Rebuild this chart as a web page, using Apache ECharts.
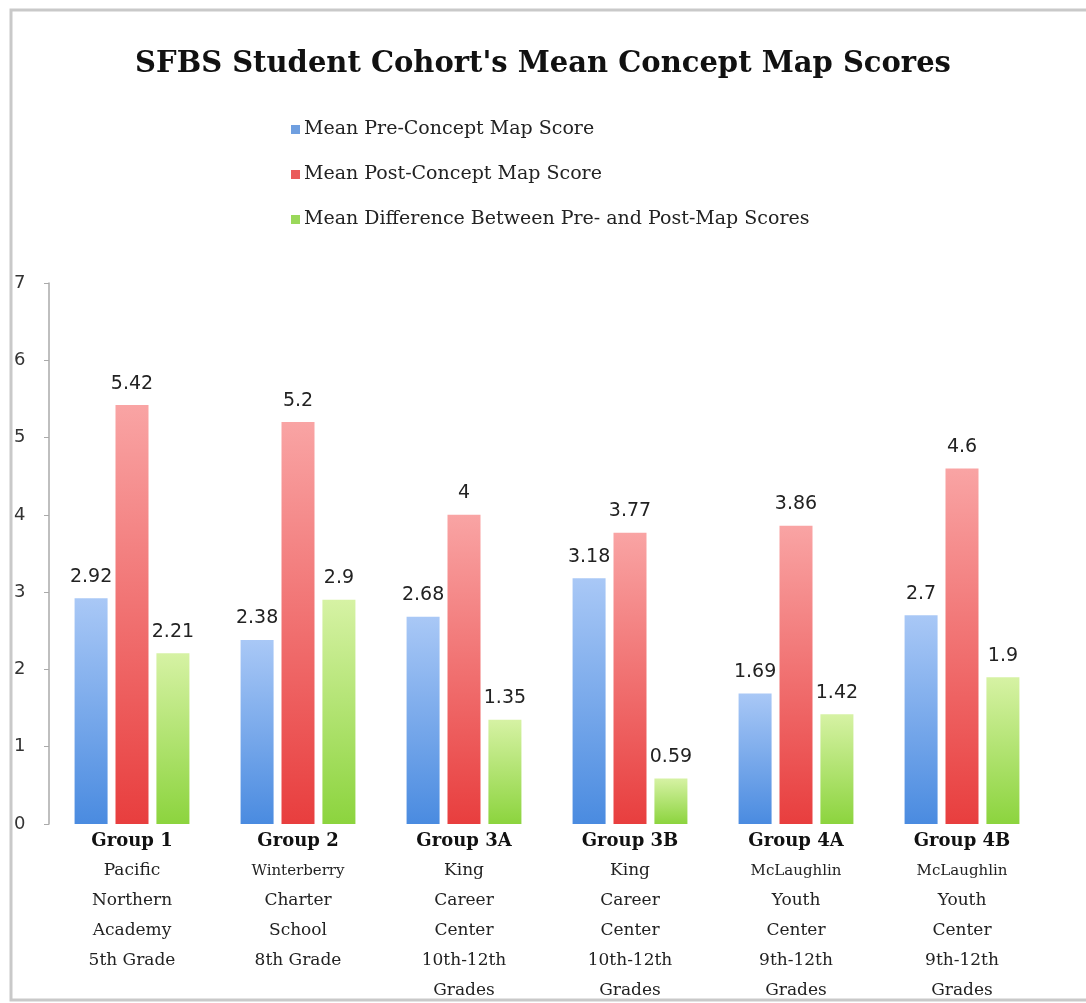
<!DOCTYPE html>
<html>
<head>
<meta charset="utf-8">
<script src="https://cdn.jsdelivr.net/npm/echarts@6/dist/echarts.min.js"></script>
<style>
html,body{margin:0;padding:0;background:#fff;}
#chart{width:1086px;height:1003px;}
</style>
</head>
<body>
<div id="chart"></div>
<script>
const titleText = "SFBS Student Cohort's Mean Concept Map Scores";
const categories = [
  "Group 1\nPacific\nNorthern\nAcademy\n5th Grade",
  "Group 2\nWinterberry\nCharter\nSchool\n8th Grade",
  "Group 3A\nKing\nCareer\nCenter\n10th-12th\nGrades",
  "Group 3B\nKing\nCareer\nCenter\n10th-12th\nGrades",
  "Group 4A\nMcLaughlin\nYouth\nCenter\n9th-12th\nGrades",
  "Group 4B\nMcLaughlin\nYouth\nCenter\n9th-12th\nGrades"
];
const seriesNames = [
  "Mean Pre-Concept Map Score",
  "Mean Post-Concept Map Score",
  "Mean Difference Between Pre- and Post-Map Scores"
];
const preScores = [2.92, 2.38, 2.68, 3.18, 1.69, 2.7];
const postScores = [5.42, 5.2, 4, 3.77, 3.86, 4.6];
const diffScores = [2.21, 2.9, 1.35, 0.59, 1.42, 1.9];
const yTicks = [0, 1, 2, 3, 4, 5, 6, 7];

const serifFont = "DejaVu Serif";
const sansFont = "DejaVu Sans";

function grad(top, bottom) {
  return new echarts.graphic.LinearGradient(0, 0, 0, 1, [
    {offset: 0, color: top},
    {offset: 1, color: bottom}
  ]);
}
const colors = [
  {top: '#a9c8f6', bottom: '#4a8be0', legend: '#6f9fe0'},
  {top: '#f9a4a4', bottom: '#e83e3e', legend: '#ea5a5a'},
  {top: '#d6f2a4', bottom: '#8cd43e', legend: '#9ad85a'}
];
const dataSets = [preScores, postScores, diffScores];

const chart = echarts.init(document.getElementById('chart'), null, {renderer: 'canvas'});
const option = {
  backgroundColor: '#ffffff',
  animation: false,
  graphic: [{
    type: 'rect',
    shape: {x: 11, y: 10, width: 1090, height: 990},
    style: {fill: 'none', stroke: '#c9c9c9', lineWidth: 3},
    silent: true
  }],
  title: {
    text: titleText,
    left: 'center',
    top: 45,
    textStyle: {fontFamily: serifFont, fontWeight: 'bold', fontSize: 29, color: '#111'}
  },
  legend: {
    orient: 'vertical',
    left: 286,
    top: 115,
    itemGap: 26,
    itemWidth: 9,
    itemHeight: 9,
    icon: 'rect',
    data: seriesNames.map((n, i) => ({name: n, itemStyle: {color: colors[i].legend}})),
    textStyle: {fontFamily: serifFont, fontSize: 19, color: '#222', padding: [0, 0, 0, -1]}
  },
  grid: {left: 49, right: 41, top: 283, bottom: 179, containLabel: false},
  xAxis: {
    type: 'category',
    data: categories,
    axisLine: {show: false},
    axisTick: {show: false},
    axisLabel: {
      interval: 0,
      margin: 2,
      formatter: function (v) {
        const lines = v.split('\n');
        return lines.map((l, i) => {
          if (i === 0) return '{b|' + l + '}';
          if (l.length >= 10 && !/\d/.test(l)) return '{s|' + l + '}';
          return '{n|' + l + '}';
        }).join('\n');
      },
      rich: {
        b: {fontFamily: serifFont, fontWeight: 'bold', fontSize: 18, color: '#111', lineHeight: 30},
        n: {fontFamily: serifFont, fontSize: 17, color: '#222', lineHeight: 30},
        s: {fontFamily: serifFont, fontSize: 15, color: '#222', lineHeight: 30}
      }
    }
  },
  yAxis: {
    type: 'value',
    min: yTicks[0],
    max: yTicks[yTicks.length - 1],
    interval: 1,
    splitLine: {show: false},
    axisLine: {show: true, lineStyle: {color: '#aaaaaa', width: 1.5}},
    axisTick: {show: true, inside: false, length: 5, lineStyle: {color: '#aaaaaa'}},
    axisLabel: {
      margin: 35,
      align: 'left',
      fontFamily: sansFont,
      fontSize: 18,
      color: '#333'
    }
  },
  series: dataSets.map((d, i) => ({
    name: seriesNames[i],
    type: 'bar',
    data: d,
    barWidth: 33,
    barGap: '24%',
    itemStyle: {color: grad(colors[i].top, colors[i].bottom)},
    label: {
      show: true,
      position: 'top',
      distance: 12,
      fontFamily: sansFont,
      fontSize: 19,
      color: '#222'
    }
  }))
};
chart.setOption(option);
</script>
</body>
</html>
